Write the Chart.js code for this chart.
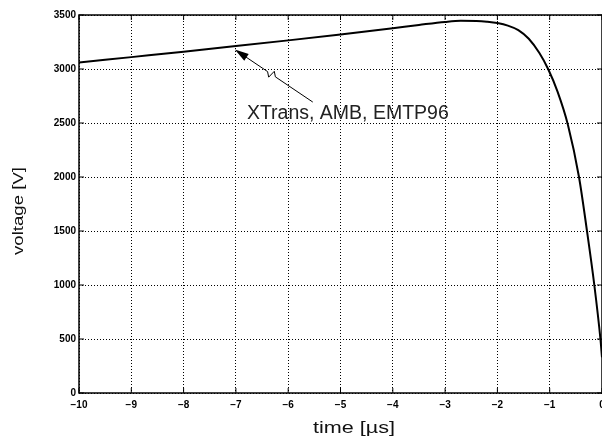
<!DOCTYPE html>
<html>
<head>
<meta charset="utf-8">
<script src="https://cdn.jsdelivr.net/npm/chart.js@4/dist/chart.umd.min.js"></script>
<style>
  html, body { margin: 0; padding: 0; background: #fff; }
  canvas { display: block; }
</style>
</head>
<body>
<canvas id="myChart" width="602" height="439"></canvas>
<script>
// Dữ liệu (time µs -> voltage V)
const timeUs  = [-10, -9, -8, -7, -6, -5, -4, -3.5, -3, -2.7, -2.4, -2.2, -2, -1.8, -1.6, -1.4, -1.2, -1.03, -0.85, -0.65, -0.44, -0.287, -0.147, -0.03, 0];
const voltage = [3060, 3110, 3160, 3212, 3265, 3320, 3378, 3408, 3436, 3446, 3444, 3437, 3425, 3402, 3360, 3280, 3150, 3000, 2790, 2480, 2000, 1500, 1000, 500, 330];

const xTicks = [-10, -9, -8, -7, -6, -5, -4, -3, -2, -1, 0];
const yTicks = [0, 500, 1000, 1500, 2000, 2500, 3000, 3500];

const xTitle = 'time [µs]';
const yTitle = 'voltage [V]';

// Chú thích có mũi tên (toạ độ theo dữ liệu)
const noteText = 'XTrans, AMB, EMTP96';
const noteAt   = { x: -6.79, y: 2590 };
const arrowTip = { x: -7.02, y: 3180 };
const arrowEnd = { x: -5.53, y: 2694 };

const FONT = '"Liberation Sans", Arial, sans-serif';

// Khung + vạch chia hướng vào trong, kiểu MATLAB
const framePlugin = {
  id: 'frame',
  afterDraw(chart) {
    const { ctx, chartArea: a, scales: { x, y } } = chart;
    ctx.save();
    ctx.strokeStyle = '#000';
    ctx.lineWidth = 1.5;
    ctx.strokeRect(a.left, a.top, a.right - a.left, a.bottom - a.top);
    ctx.lineWidth = 1;
    ctx.beginPath();
    xTicks.forEach(t => {
      const px = x.getPixelForValue(t);
      ctx.moveTo(px, a.bottom); ctx.lineTo(px, a.bottom - 5);
      ctx.moveTo(px, a.top);    ctx.lineTo(px, a.top + 5);
    });
    yTicks.forEach(v => {
      const py = y.getPixelForValue(v);
      ctx.moveTo(a.left, py);  ctx.lineTo(a.left + 5, py);
      ctx.moveTo(a.right, py); ctx.lineTo(a.right - 5, py);
    });
    ctx.stroke();

    // mũi tên có nét gấp khúc
    const tx = x.getPixelForValue(arrowTip.x), ty = y.getPixelForValue(arrowTip.y);
    const ex = x.getPixelForValue(arrowEnd.x), ey = y.getPixelForValue(arrowEnd.y);
    const dx = ex - tx, dy = ey - ty, len = Math.hypot(dx, dy);
    const ux = dx / len, uy = dy / len, nx = -uy, ny = ux;
    const m1 = 0.42 * len, m2 = 0.52 * len;
    ctx.beginPath();
    ctx.moveTo(tx + ux * 8, ty + uy * 8);
    ctx.lineTo(tx + ux * m1, ty + uy * m1);
    ctx.lineTo(tx + ux * (m1 + 4) + nx * 4, ty + uy * (m1 + 4) + ny * 4);
    ctx.lineTo(tx + ux * (m2 - 4) - nx * 4, ty + uy * (m2 - 4) - ny * 4);
    ctx.lineTo(tx + ux * m2, ty + uy * m2);
    ctx.lineTo(ex, ey);
    ctx.stroke();
    ctx.fillStyle = '#000';
    ctx.beginPath();
    ctx.moveTo(tx, ty);
    ctx.lineTo(tx + ux * 14 + nx * 4, ty + uy * 14 + ny * 4);
    ctx.lineTo(tx + ux * 14 - nx * 4, ty + uy * 14 - ny * 4);
    ctx.closePath();
    ctx.fill();

    ctx.font = '19.5px ' + FONT;
    ctx.textBaseline = 'middle';
    ctx.fillStyle = '#222';
    ctx.fillText(noteText, x.getPixelForValue(noteAt.x), y.getPixelForValue(noteAt.y));

    // tên trục (chữ trong hình gốc bị kéo dãn theo chiều dài)
    ctx.fillStyle = '#111';
    ctx.textAlign = 'center';
    ctx.save();
    ctx.translate(354, 429);
    ctx.scale(1.35, 1);
    ctx.font = '16px ' + FONT;
    ctx.fillText(xTitle, 0, 0);
    ctx.restore();
    ctx.save();
    ctx.translate(19, 211);
    ctx.rotate(-Math.PI / 2);
    ctx.scale(1.33, 1);
    ctx.font = '14px ' + FONT;
    ctx.fillText(yTitle, 0, 0);
    ctx.restore();
    ctx.restore();
  }
};

const tickFont = { family: FONT, size: 10, weight: 'bold' };

new Chart(document.getElementById('myChart').getContext('2d'), {
  type: 'scatter',
  data: {
    datasets: [{
      data: timeUs.map((t, i) => ({ x: t, y: voltage[i] })),
      showLine: true,
      borderColor: '#000',
      borderWidth: 2,
      pointRadius: 0,
      cubicInterpolationMode: 'monotone',
      fill: false
    }]
  },
  options: {
    responsive: false,
    animation: false,
    devicePixelRatio: 1,
    layout: { padding: { top: 15, left: 0, right: 0, bottom: 0 } },
    plugins: { legend: { display: false }, tooltip: { enabled: false } },
    scales: {
      x: {
        type: 'linear', min: -10, max: 0,
        afterBuildTicks: s => { s.ticks = xTicks.map(v => ({ value: v })); },
        afterFit: s => { s.height = 46; s.paddingLeft = 0; s.paddingRight = 0; },
        grid: { color: '#000', lineWidth: 1, drawTicks: false },
        border: { display: false, dash: [1, 2] },
        ticks: {
          color: '#000', font: tickFont, padding: 6, maxRotation: 0,
          callback: v => (v < 0 ? '\u2212' + Math.abs(v) : String(v))
        }
      },
      y: {
        type: 'linear', min: 0, max: 3500,
        afterBuildTicks: s => { s.ticks = yTicks.map(v => ({ value: v })); },
        afterFit: s => { s.width = 79; },
        grid: { color: '#000', lineWidth: 1, drawTicks: false },
        border: { display: false, dash: [1, 2] },
        ticks: { color: '#000', font: tickFont, padding: 3, callback: v => String(v) }
      }
    }
  },
  plugins: [framePlugin]
});
</script>
</body>
</html>
